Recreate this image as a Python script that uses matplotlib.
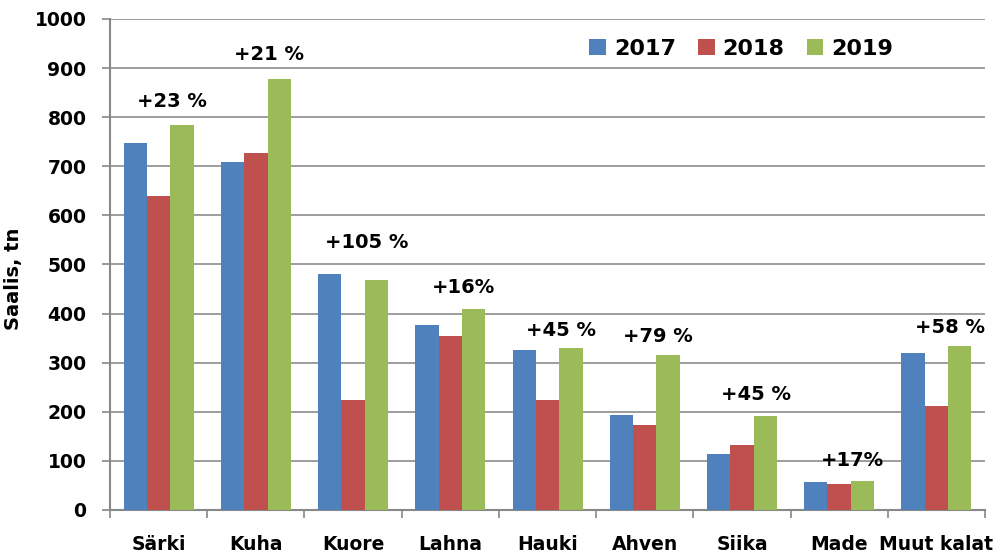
import matplotlib
matplotlib.use("Agg")
import matplotlib.pyplot as plt
import numpy as np
from matplotlib.patches import Patch

categories = ["Särki", "Kuha", "Kuore", "Lahna", "Hauki", "Ahven", "Siika", "Made", "Muut kalat"]
years = ["2017", "2018", "2019"]
v2017 = [748, 709, 481, 377, 325, 194, 115, 56, 319]
v2018 = [640, 727, 225, 354, 225, 174, 132, 53, 212]
v2019 = [785, 878, 468, 409, 329, 315, 191, 60, 333]
change_labels = ["+23 %", "+21 %", "+105 %", "+16%", "+45 %", "+79 %", "+45 %", "+17%", "+58 %"]
label_y = [831, 927, 544, 454, 365, 354, 236, 100, 371]

colors = ["#4F81BD", "#C0504D", "#9BBB59"]
font = "DejaVu Sans"

fig = plt.figure(figsize=(10, 5.57), dpi=100)
ax = fig.add_axes([0.110, 0.0844, 0.875, 0.8815])

x = np.arange(len(categories))
w = 0.24
for i, (vals, c) in enumerate(zip([v2017, v2018, v2019], colors)):
    ax.bar(x + (i - 1) * w, vals, width=w, color=c, zorder=3)

for xi, lab, ly in zip(x, change_labels, label_y):
    ax.text(xi + 0.14, ly, lab, ha="center", va="center", fontsize=14,
            fontweight="bold", family=font, zorder=4)

ax.set_xlim(-0.5, len(categories) - 0.5)
ax.set_ylim(0, 1000)
ax.set_yticks(np.arange(0, 1001, 100))
ax.set_yticklabels([str(v) for v in range(0, 1001, 100)], fontsize=13.5,
                   fontweight="bold", family=font)
ax.set_xticks(x)
ax.set_xticklabels(categories, fontsize=13.5, fontweight="bold", family=font)
ax.tick_params(axis="x", length=0, pad=18)
ax.set_xticks(np.arange(-0.5, len(categories), 1), minor=True)
ax.tick_params(axis="x", which="minor", length=6, color="#888888", width=1.2, direction="out")
ax.tick_params(axis="y", length=6, color="#888888", width=1.2, direction="out", pad=11)
ax.grid(axis="y", color="#8C8C8C", linewidth=1.2, zorder=0)
for s in ["top", "right"]:
    ax.spines[s].set_visible(False)
for s in ["left", "bottom"]:
    ax.spines[s].set_color("#888888")
    ax.spines[s].set_linewidth(1.5)

ax.set_ylabel("Saalis, tn", fontsize=14, fontweight="bold", family=font)
ax.yaxis.set_label_coords(-0.099, 0.47)

handles = [Patch(facecolor=c, edgecolor="none") for c in colors]
leg = ax.legend(handles, years, ncol=3, loc="upper left", bbox_to_anchor=(0.525, 1.0),
                frameon=False, prop={"family": font, "weight": "bold", "size": 16},
                handlelength=0.75, handleheight=0.75, handletextpad=0.35, columnspacing=1.0)

fig.savefig("out.png", dpi=100, facecolor="white")
